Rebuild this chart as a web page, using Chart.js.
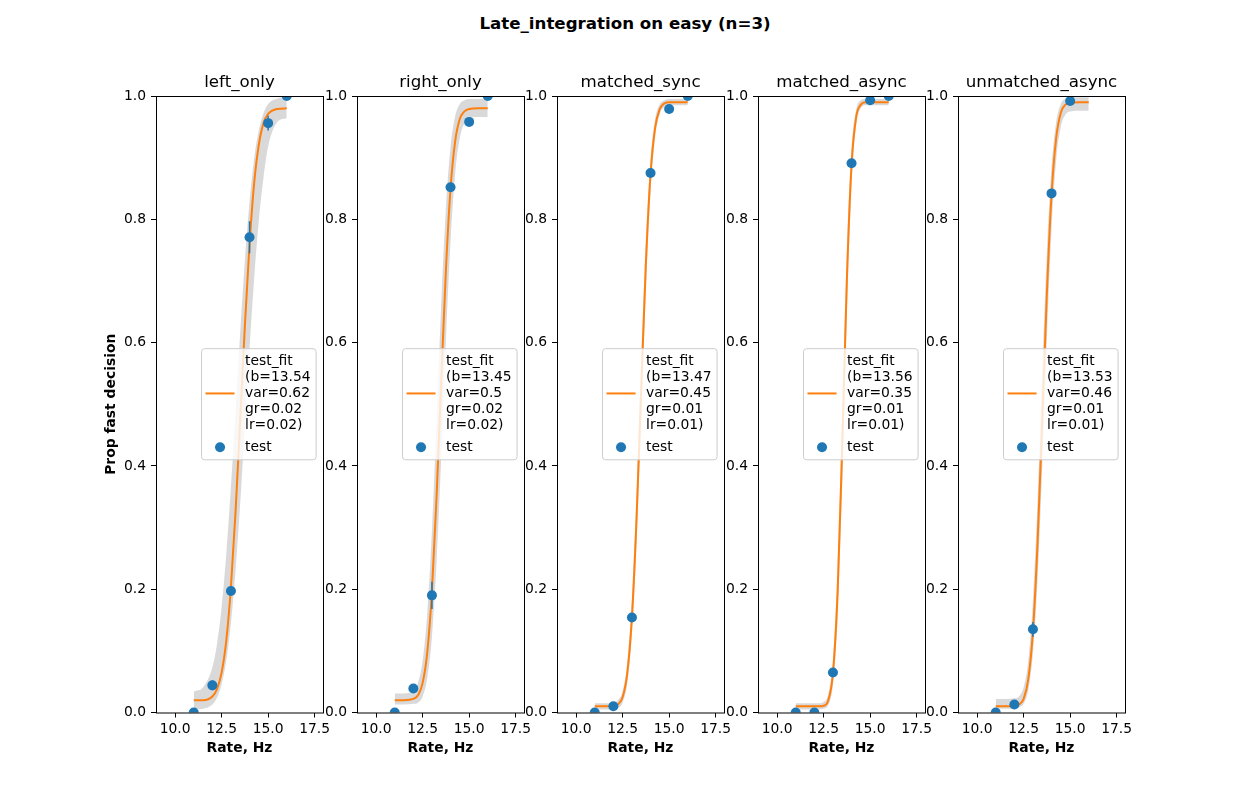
<!DOCTYPE html>
<html>
<head>
<meta charset="utf-8">
<script src="https://cdn.jsdelivr.net/npm/chart.js@4.4.0/dist/chart.umd.min.js"></script>
<style>
  body { margin: 0; background: #fff; }
  #wrap { position: relative; width: 1250px; height: 800px; overflow: hidden; background: #fff; }
  #suptitle { position: absolute; left: 0; top: 14px; width: 1250px; line-height: 20px; text-align: center;
              font: bold 16.67px 'DejaVu Sans'; color: #000; }
  canvas { position: absolute; }
</style>
</head>
<body>
<div id="wrap">
  <div id="suptitle">Late_integration on easy (n=3)</div>
</div>
<script>
// Dati
const panelNames = ['left_only', 'right_only', 'matched_sync', 'matched_async', 'unmatched_async'];
const rateHz = [11, 12, 13, 14, 15, 16];
const xTickValues = [10, 12.5, 15, 17.5];
const yTickValues = [0, 0.2, 0.4, 0.6, 0.8, 1.0];

// parametri del fit (testo della legenda)
const fitB = [13.54, 13.45, 13.47, 13.56, 13.53];
const fitVar = [0.62, 0.5, 0.45, 0.35, 0.46];
const fitGr = [0.02, 0.02, 0.01, 0.01, 0.01];
const fitLr = [0.02, 0.02, 0.01, 0.01, 0.01];

// punti "test" e barre di errore
const testLeftOnly = [0.0, 0.044, 0.197, 0.771, 0.956, 1.0];
const testRightOnly = [0.0, 0.039, 0.19, 0.852, 0.958, 1.0];
const testMatchedSync = [0.0, 0.01, 0.154, 0.875, 0.979, 1.0];
const testMatchedAsync = [0.0, 0.0, 0.065, 0.891, 0.993, 1.0];
const testUnmatchedAsync = [0.0, 0.013, 0.135, 0.842, 0.992];

const errLeftOnly = [0, 0.008, 0.006, 0.026, 0.012, 0];
const errRightOnly = [0, 0.004, 0.022, 0.005, 0.005, 0];
const errMatchedSync = [0, 0.003, 0.004, 0.005, 0.004, 0];
const errMatchedAsync = [0, 0, 0.005, 0.005, 0.003, 0];
const errUnmatchedAsync = [0, 0.004, 0.012, 0.005, 0.004];

const fitX = [11, 11.5, 12, 12.25, 12.5, 12.75, 13, 13.25, 13.5, 13.75, 14, 14.25, 14.5, 14.75, 15, 15.5, 16];
const fitLeftOnly = [0.020, 0.020, 0.026, 0.038, 0.065, 0.117, 0.204, 0.327, 0.475, 0.628, 0.760, 0.859, 0.921, 0.956, 0.971, 0.979, 0.980];
const fitRightOnly = [0.020, 0.020, 0.022, 0.028, 0.048, 0.098, 0.197, 0.351, 0.538, 0.717, 0.850, 0.927, 0.963, 0.975, 0.979, 0.980, 0.980];
const fitMatchedSync = [0.010, 0.010, 0.0105, 0.013, 0.025, 0.064, 0.155, 0.316, 0.526, 0.728, 0.873, 0.949, 0.979, 0.988, 0.990, 0.990, 0.990];
const fitMatchedAsync = [0.010, 0.010, 0.010, 0.010, 0.011, 0.020, 0.064, 0.194, 0.433, 0.702, 0.888, 0.966, 0.986, 0.990, 0.990, 0.990, 0.990];
const fitUnmatchedAsync = [0.010, 0.010, 0.010, 0.013, 0.022, 0.054, 0.132, 0.276, 0.475, 0.680, 0.840, 0.932, 0.973, 0.986, 0.989, 0.990, 0.990];

// banda grigia (bordo superiore / inferiore)
const hiLeftOnly = [0.034, 0.041, 0.073, 0.111, 0.171, 0.257, 0.366, 0.490, 0.617, 0.733, 0.829, 0.899, 0.945, 0.972, 0.987, 0.996, 0.998];
const loLeftOnly = [0.005, 0.006, 0.013, 0.024, 0.046, 0.084, 0.145, 0.231, 0.340, 0.464, 0.589, 0.704, 0.798, 0.867, 0.918, 0.958, 0.964];
const hiRightOnly = [0.031, 0.031, 0.036, 0.048, 0.084, 0.162, 0.295, 0.474, 0.663, 0.818, 0.917, 0.967, 0.987, 0.993, 0.995, 0.995, 0.995];
const loRightOnly = [0.013, 0.013, 0.014, 0.016, 0.026, 0.056, 0.123, 0.244, 0.414, 0.602, 0.764, 0.874, 0.932, 0.956, 0.964, 0.966, 0.966];
const hiMatchedSync = [0.015, 0.015, 0.016, 0.020, 0.035, 0.082, 0.187, 0.361, 0.574, 0.768, 0.898, 0.963, 0.987, 0.993, 0.995, 0.995, 0.995];
const loMatchedSync = [0.005, 0.005, 0.005, 0.007, 0.016, 0.048, 0.126, 0.274, 0.478, 0.686, 0.845, 0.934, 0.971, 0.982, 0.985, 0.985, 0.985];
const hiMatchedAsync = [0.015, 0.015, 0.015, 0.015, 0.017, 0.030, 0.086, 0.239, 0.494, 0.754, 0.916, 0.978, 0.993, 0.995, 0.995, 0.995, 0.995];
const loMatchedAsync = [0.005, 0.005, 0.005, 0.005, 0.006, 0.012, 0.045, 0.154, 0.374, 0.647, 0.855, 0.952, 0.980, 0.985, 0.985, 0.985, 0.985];
const hiUnmatchedAsync = [0.022, 0.022, 0.023, 0.026, 0.041, 0.084, 0.182, 0.346, 0.552, 0.747, 0.885, 0.958, 0.987, 0.996, 0.998, 0.998, 0.998];
const loUnmatchedAsync = [0.006, 0.006, 0.006, 0.008, 0.014, 0.036, 0.096, 0.216, 0.399, 0.607, 0.784, 0.896, 0.950, 0.970, 0.975, 0.976, 0.976];

const testValues = [testLeftOnly, testRightOnly, testMatchedSync, testMatchedAsync, testUnmatchedAsync];
const testErrors = [errLeftOnly, errRightOnly, errMatchedSync, errMatchedAsync, errUnmatchedAsync];
const fitValues = [fitLeftOnly, fitRightOnly, fitMatchedSync, fitMatchedAsync, fitUnmatchedAsync];
const bandHigh = [hiLeftOnly, hiRightOnly, hiMatchedSync, hiMatchedAsync, hiUnmatchedAsync];
const bandLow = [loLeftOnly, loRightOnly, loMatchedSync, loMatchedAsync, loUnmatchedAsync];

// Impaginazione
const panelLeft = [156, 357, 557, 758, 958];
const panelWidth = 167;
const FONT = "'DejaVu Sans'";
const BLUE = '#1f77b4';
const ORANGE = '#ff7f0e';

Chart.defaults.font.family = FONT;
Chart.defaults.color = '#000';

const toPoints = (xs, ys) => ys.map((y, i) => ({x: xs[i], y: y}));

// barre di errore verticali
const errorBarPlugin = {
    id: 'errorBars',
    afterDatasetsDraw(chart) {
        const {ctx, chartArea, scales} = chart;
        ctx.save();
        ctx.beginPath();
        ctx.rect(chartArea.left, chartArea.top, chartArea.width, chartArea.height);
        ctx.clip();
        chart.data.datasets.forEach(ds => {
            if (!ds.yErr) return;
            ctx.strokeStyle = ds.backgroundColor;
            ctx.lineWidth = 1.5;
            ds.data.forEach((p, i) => {
                const e = ds.yErr[i];
                if (!e) return;
                const x = scales.x.getPixelForValue(p.x);
                ctx.beginPath();
                ctx.moveTo(x, scales.y.getPixelForValue(p.y - e));
                ctx.lineTo(x, scales.y.getPixelForValue(p.y + e));
                ctx.stroke();
            });
        });
        ctx.restore();
    }
};

// cornice completa degli assi
const framePlugin = {
    id: 'frame',
    afterDatasetsDraw(chart) {
        const {ctx, chartArea} = chart;
        ctx.save();
        ctx.strokeStyle = '#000';
        ctx.lineWidth = 1;
        ctx.strokeRect(chartArea.left + 0.5, chartArea.top + 0.5, chartArea.width, chartArea.height);
        ctx.restore();
    }
};

// legenda stile matplotlib, al centro a destra
const legendBoxPlugin = {
    id: 'legendBox',
    afterDraw(chart) {
        const {ctx, chartArea} = chart;
        const items = chart.data.datasets.filter(ds => ds.legendRank !== undefined)
            .sort((a, b) => a.legendRank - b.legendRank);
        const lineH = 16.1, pad = 4.5, gap = 5.5, textOffset = 43.5;
        ctx.save();
        ctx.font = '13.89px ' + FONT;
        let maxW = 0;
        let h = pad * 2;
        items.forEach((ds, i) => {
            const lines = ds.label.split('\n');
            lines.forEach(l => { maxW = Math.max(maxW, ctx.measureText(l).width); });
            h += lines.length * lineH + (i > 0 ? gap : 0);
        });
        const w = textOffset + maxW + 5.5;
        const left = chartArea.right - 6.9 - w;
        const top = (chartArea.top + chartArea.bottom) / 2 - h / 2;

        ctx.beginPath();
        if (ctx.roundRect) ctx.roundRect(left, top, w, h, 3);
        else ctx.rect(left, top, w, h);
        ctx.fillStyle = 'rgba(255,255,255,0.8)';
        ctx.fill();
        ctx.strokeStyle = '#cccccc';
        ctx.lineWidth = 1;
        ctx.stroke();

        let y = top + pad;
        items.forEach((ds, i) => {
            if (i > 0) y += gap;
            const lines = ds.label.split('\n');
            const blockH = lines.length * lineH;
            const cy = y + blockH / 2;
            if (ds.showLine === false) {
                ctx.beginPath();
                ctx.arc(left + 18.5, cy, 5, 0, Math.PI * 2);
                ctx.fillStyle = ds.backgroundColor;
                ctx.fill();
            } else {
                ctx.beginPath();
                ctx.moveTo(left + 4, cy);
                ctx.lineTo(left + 33, cy);
                ctx.strokeStyle = ds.borderColor;
                ctx.lineWidth = 2;
                ctx.stroke();
            }
            ctx.fillStyle = '#000';
            ctx.textAlign = 'left';
            ctx.textBaseline = 'middle';
            lines.forEach((l, j) => ctx.fillText(l, left + textOffset, y + lineH * (j + 0.5)));
            y += blockH;
        });
        ctx.restore();
    }
};

const wrap = document.getElementById('wrap');

panelNames.forEach((name, i) => {
    const yW = i === 0 ? 53 : 40;
    const canvas = document.createElement('canvas');
    canvas.width = yW + panelWidth + 15;
    canvas.height = 722;
    canvas.style.left = (panelLeft[i] - yW) + 'px';
    canvas.style.top = '40px';
    wrap.appendChild(canvas);

    const fitLabel = 'test_fit\n(b=' + fitB[i] + '\nvar=' + fitVar[i] + '\ngr=' + fitGr[i] + '\nlr=' + fitLr[i] + ')';

    new Chart(canvas, {
        type: 'line',
        data: {
            datasets: [
                {
                    label: 'test',
                    data: toPoints(rateHz, testValues[i]),
                    yErr: testErrors[i],
                    showLine: false,
                    pointRadius: 5,
                    pointBorderWidth: 0,
                    backgroundColor: BLUE,
                    borderColor: BLUE,
                    clip: 0,
                    order: 0,
                    legendRank: 1
                },
                {
                    label: fitLabel,
                    data: toPoints(fitX, fitValues[i]),
                    borderColor: ORANGE,
                    borderWidth: 2,
                    pointRadius: 0,
                    cubicInterpolationMode: 'monotone',
                    fill: false,
                    clip: 0,
                    order: 1,
                    legendRank: 0
                },
                {
                    label: 'band_high',
                    data: toPoints(fitX, bandHigh[i]),
                    borderColor: 'rgba(0,0,0,0)',
                    borderWidth: 0,
                    pointRadius: 0,
                    cubicInterpolationMode: 'monotone',
                    backgroundColor: 'rgba(160,160,160,0.4)',
                    fill: '+1',
                    clip: 0,
                    order: 2
                },
                {
                    label: 'band_low',
                    data: toPoints(fitX, bandLow[i]),
                    borderColor: 'rgba(0,0,0,0)',
                    borderWidth: 0,
                    pointRadius: 0,
                    cubicInterpolationMode: 'monotone',
                    fill: false,
                    clip: 0,
                    order: 3
                }
            ]
        },
        options: {
            responsive: false,
            animation: false,
            events: [],
            layout: {
                autoPadding: false,
                padding: {left: 0, right: 15, top: 0, bottom: 5.5}
            },
            plugins: {
                legend: {display: false},
                tooltip: {enabled: false},
                title: {
                    display: true,
                    fullSize: false,
                    align: 'center',
                    text: name,
                    color: '#000',
                    font: {size: 16.67, weight: 'normal', lineHeight: 1.2},
                    padding: {top: 33, bottom: 3}
                }
            },
            scales: {
                x: {
                    type: 'linear',
                    min: 8.97,
                    max: 17.95,
                    afterBuildTicks: s => { s.ticks = xTickValues.map(v => ({value: v})); },
                    afterFit: s => { s.height = 44; },
                    ticks: {
                        callback: v => v.toFixed(1),
                        font: {size: 13.89},
                        padding: 3.5,
                        maxRotation: 0,
                        autoSkip: false
                    },
                    grid: {display: true, drawOnChartArea: false, drawTicks: true, tickLength: 5, color: '#000', lineWidth: 1},
                    border: {display: false},
                    title: {display: true, text: 'Rate, Hz', font: {size: 13.89, weight: 'bold', lineHeight: 1.2}, padding: 0}
                },
                y: {
                    type: 'linear',
                    min: 0,
                    max: 1,
                    afterBuildTicks: s => { s.ticks = yTickValues.map(v => ({value: v})); },
                    afterFit: s => { s.width = yW; },
                    ticks: {
                        callback: v => v.toFixed(1),
                        font: {size: 13.89},
                        padding: 5,
                        autoSkip: false
                    },
                    grid: {display: true, drawOnChartArea: false, drawTicks: true, tickLength: 5, color: '#000', lineWidth: 1},
                    border: {display: false},
                    title: {display: i === 0, text: 'Prop fast decision', font: {size: 13.89, weight: 'bold', lineHeight: 1.2}, padding: 0}
                }
            }
        },
        plugins: [errorBarPlugin, framePlugin, legendBoxPlugin]
    });
});
</script>
</body>
</html>
